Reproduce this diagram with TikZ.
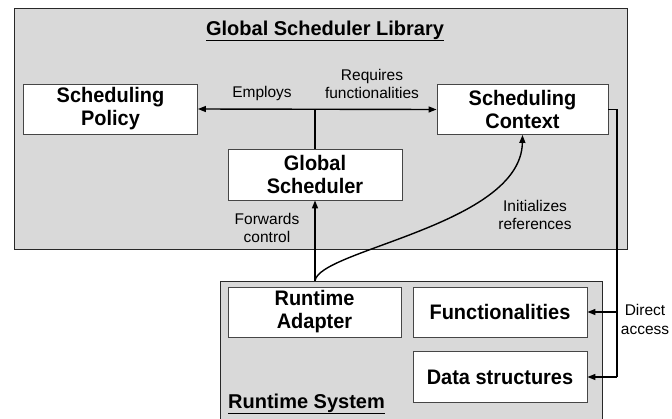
\documentclass[tikz,border=0pt]{standalone}
\usepackage{fontspec}
\setmainfont{Liberation Sans}
\newfontfamily\boxfont[FakeStretch=0.95]{Liberation Sans}
\usetikzlibrary{arrows.meta}
\definecolor{panel}{RGB}{217,217,217}
\definecolor{edge}{RGB}{70,70,70}
\definecolor{paneledge}{RGB}{40,40,40}
\tikzset{
  panelbox/.style={draw=paneledge, fill=panel, line width=1.2pt, inner sep=0pt, anchor=north west},
  unitbox/.style={draw=edge, fill=white, line width=0.9pt, inner sep=0pt, align=center,
    font=\boxfont\bfseries\fontsize{21}{23}\selectfont},
  lbl/.style={align=center, inner sep=0pt, font=\fontsize{15.5}{18.5}\selectfont},
  ttl/.style={inner sep=0pt, font=\bfseries\fontsize{20}{24}\selectfont},
  conn/.style={line width=1.4pt, black},
  tip/.style={-{Triangle[length=8pt,width=6pt]}},
}
\begin{document}
\begin{tikzpicture}[x=1pt,y=-1pt]
\useasboundingbox (0,0) rectangle (672,418);
\clip (0,0) rectangle (672,418);
% containers
\node[panelbox, minimum width=613pt, minimum height=241pt] (lib) at (14,8) {};
\node[panelbox, minimum width=382pt, minimum height=150pt] (rts) at (220,281) {};
\node[ttl, anchor=base] (libt) at (325,35) {\underline{Global Scheduler Library}};
\node[ttl, anchor=base west] (rtst) at (228,408) {\underline{Runtime System}};
% boxes
\node[unitbox, minimum width=174pt, minimum height=50pt] (policy) at (110.5,109) {Scheduling\\Policy};
\node[unitbox, minimum width=171pt, minimum height=50pt] (context) at (522.5,109.5) {Scheduling\\Context};
\node[unitbox, minimum width=174pt, minimum height=51pt] (gs) at (315,174.5) {Global\\Scheduler};
\node[unitbox, minimum width=173pt, minimum height=50pt] (ra) at (314.5,312) {Runtime\\Adapter};
\node[unitbox, minimum width=174pt, minimum height=50pt] (func) at (500,312) {Functionalities};
\node[unitbox, minimum width=174pt, minimum height=51pt] (data) at (500,377) {Data structures};
% connectors
\draw[conn, {Triangle[length=8pt,width=6pt]}-{Triangle[length=8pt,width=6pt]}] (policy.east) -- (context.west);
\coordinate (junc) at (gs.north |- policy.east);
\draw[conn] (gs.north) -- (junc);
\coordinate (raTop) at (gs.south |- rts.north);
\draw[conn, tip] (raTop) -- (gs.south);
\draw[conn, tip] (raTop) .. controls (318,250) and (521,225) .. (context.south);
\coordinate (dv) at (617,109.5);
\draw[conn] (context.east) -- (dv) -- (dv |- data.east);
\draw[conn, tip] (dv |- func.east) -- (func.east);
\draw[conn, tip] (dv |- data.east) -- (data.east);
% labels
\node[lbl] (lemp) at (262,93) {Employs};
\node[lbl] (lreq) at (372,84) {Requires\\functionalities};
\node[lbl] (lfwd) at (267,228) {Forwards\\control};
\node[lbl] (lini) at (535,215) {Initializes\\references};
\node[lbl] (ldir) at (645,319.5) {Direct\\access};
\end{tikzpicture}
\end{document}
